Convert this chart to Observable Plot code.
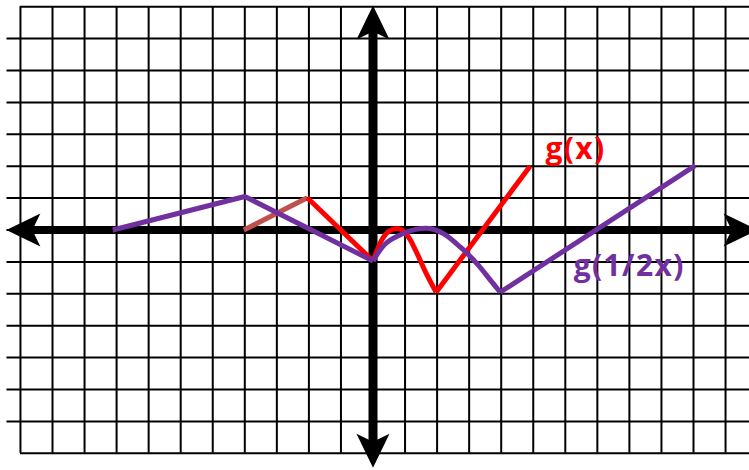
<!DOCTYPE html>
<html>
<head>
<meta charset="utf-8">
<script src="https://cdn.jsdelivr.net/npm/d3@7"></script>
<script src="https://cdn.jsdelivr.net/npm/@observablehq/plot@0.6"></script>
<style>
  html, body { margin: 0; padding: 0; background: #fff; }
  svg text { letter-spacing: 1.4px; }
</style>
</head>
<body>
<div id="chart"></div>
<script>
// Grid extents (in graph units)
const gridXs = d3.range(-11, 12);       // vertical grid lines
const gridYs = d3.range(-7, 8);         // horizontal grid lines

// Axis arrow tips: up, right, down, left
const tipX = [0, 12.0, 0, -11.44];
const tipY = [7.04, 0, -7.45, 0];
const tipAngle = [0, 90, 180, 270];

// g(x): straight pieces and the curved bump between x=0 and x=2
const gShadowX = [-4.03, -2.05];
const gShadowY = [0, 1.01];
const gLeftX = [-2.05, 0];
const gLeftY = [1.01, -0.97];
const gBumpX = [0, 0.29, 0.49, 0.81, 1.07, 1.33, 1.64, 1.97];
const gBumpY = [-0.97, -0.28, -0.04, 0.04, -0.17, -0.64, -1.32, -1.95];
const gRightX = [1.97, 4.9];
const gRightY = [-1.95, 2.0];

// g(1/2 x)
const hLeftX = [-8.12, -4, 0];
const hLeftY = [0, 1.05, -0.97];
const hBumpX = [0, 0.39, 0.81, 1.33, 1.77, 2.21, 2.73, 3.25, 3.67, 3.97];
const hBumpY = [-0.97, -0.43, -0.17, 0.02, 0.05, -0.12, -0.54, -1.06, -1.58, -1.95];
const hRightX = [3.97, 10.05];
const hRightY = [-1.95, 2.02];

// Labels
const labelText = ["g(x)", "g(1/2x)"];
const labelX = [5.38, 6.26];
const labelY = [2.54, -1.14];
const labelColor = ["#ff0000", "#7030a0"];

const pts = (xs, ys) => xs.map((x, i) => ({x, y: ys[i]}));

const arrowHead = {
  draw(ctx) {
    ctx.moveTo(0, 0);
    ctx.lineTo(16.5, 34);
    ctx.lineTo(0, 26);
    ctx.lineTo(-16.5, 34);
    ctx.closePath();
  }
};

const lineOpts = {x: "x", y: "y", strokeWidth: 5, strokeLinecap: "butt", strokeLinejoin: "miter"};

const chart = Plot.plot({
  width: 749,
  height: 470,
  margin: 0,
  style: {background: "#fff"},
  x: {domain: [-372.5 / 32.05, 376.5 / 32.05], axis: null},
  y: {domain: [-240.5 / 31.9, 229.5 / 31.9], axis: null},
  marks: [
    Plot.ruleX(gridXs, {y1: -7, y2: 7, stroke: "#000", strokeWidth: 2}),
    Plot.ruleY(gridYs.filter(d => Math.abs(d) < 7), {x1: -11.42, x2: 12.5, stroke: "#000", strokeWidth: 2}),
    Plot.ruleY(gridYs.filter(d => Math.abs(d) === 7), {x1: -11, x2: 12.5, stroke: "#000", strokeWidth: 2}),
    // axes
    Plot.ruleY([0], {x1: -11.0, x2: 11.6, stroke: "#000", strokeWidth: 8}),
    Plot.ruleX([0], {y1: -7.1, y2: 6.7, stroke: "#000", strokeWidth: 9}),
    Plot.dot(tipX.map((x, i) => ({x, y: tipY[i], a: tipAngle[i]})), {
      x: "x", y: "y", rotate: "a", symbol: arrowHead, fill: "#000", stroke: "none", r: 10
    }),
    // g(x)
    Plot.line(pts(gShadowX, gShadowY), {...lineOpts, stroke: "#c0504d"}),
    Plot.line(pts(gLeftX, gLeftY), {...lineOpts, stroke: "#ff0000"}),
    Plot.line(pts(gBumpX, gBumpY), {...lineOpts, stroke: "#ff0000", curve: "catmull-rom"}),
    Plot.line(pts(gRightX, gRightY), {...lineOpts, stroke: "#ff0000"}),
    // g(1/2 x)
    Plot.line(pts(hLeftX, hLeftY), {...lineOpts, stroke: "#7030a0"}),
    Plot.line(pts(hBumpX, hBumpY), {...lineOpts, stroke: "#7030a0", curve: "catmull-rom"}),
    Plot.line(pts(hRightX, hRightY), {...lineOpts, stroke: "#7030a0"}),
    // labels
    Plot.text(labelText.map((t, i) => ({t, x: labelX[i], y: labelY[i], c: labelColor[i]})), {
      x: "x", y: "y", text: "t", fill: "c", textAnchor: "start", lineAnchor: "middle",
      fontFamily: "Open Sans", fontWeight: "bold", fontSize: 30
    })
  ]
});
document.getElementById("chart").appendChild(chart);
</script>
</body>
</html>
